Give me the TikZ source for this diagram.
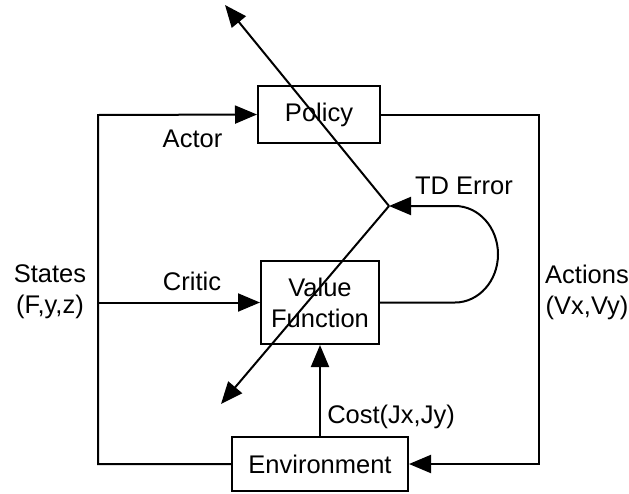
\documentclass[tikz,border=0pt]{standalone}
\usepackage{fontspec}
\setmainfont{Liberation Sans}
\usetikzlibrary{arrows.meta}
\begin{document}
\begin{tikzpicture}[x=1pt,y=-1pt,
  every node/.style={font=\fontsize{25.5}{31}\selectfont},
  box/.style={draw,line width=2pt,inner sep=0pt,align=center},
  lbl/.style={inner sep=0pt,align=center},
  link/.style={line width=2pt,-{Triangle[length=22pt,width=18pt]}},
  wire/.style={line width=2pt}]
  \useasboundingbox (0,0) rectangle (629,493);

  % blocks
  \node[box,minimum width=122pt,minimum height=57pt] (policy) at (319,114.5) {Policy};
  \node[box,minimum width=118pt,minimum height=83pt] (value) at (320,302.5) {Value\\Function};
  \node[box,minimum width=176pt,minimum height=54pt] (env) at (320,464) {Environment};

  % corners of the outer loop and the TD junction
  \coordinate (ltop) at (98,115);
  \coordinate (lmid) at (98,302.5);
  \coordinate (rtop) at (539,114.5);
  \coordinate (loopb) at (455,302.5);
  \coordinate (cross) at (389,206);
  \coordinate (tipup) at (225,5);
  \coordinate (tipdown) at (221,404);

  % states feed the actor and the critic
  \draw[link] (env.west) -| (ltop) -- (policy.west);
  \draw[link] (lmid) -- (value.west);

  % actions go to the environment
  \draw[link] (policy.east) -| (rtop) |- (env.east);

  % cost feeds the value function
  \draw[link] (env.north) -- (value.south);

  % TD error loop
  \draw[link] (value.east) -- (loopb)
    arc[start angle=-90,end angle=90,x radius=43pt,y radius=48.25pt] -- (cross);

  % TD error updates both blocks
  \draw[link] (cross) -- (tipup);
  \draw[link] (cross) -- (tipdown);

  % labels
  \node[lbl] (actor) at (192.5,139) {Actor};
  \node[lbl] (critic) at (192,281) {Critic};
  \node[lbl] (tderr) at (464,186) {TD Error};
  \node[lbl] (states) at (50,292) {States\\(F,y,z)};
  \node[lbl] (actions) at (587,292) {Actions\\(Vx,Vy)};
  \node[lbl] (cost) at (391,417) {Cost(Jx,Jy)};
\end{tikzpicture}
\end{document}
